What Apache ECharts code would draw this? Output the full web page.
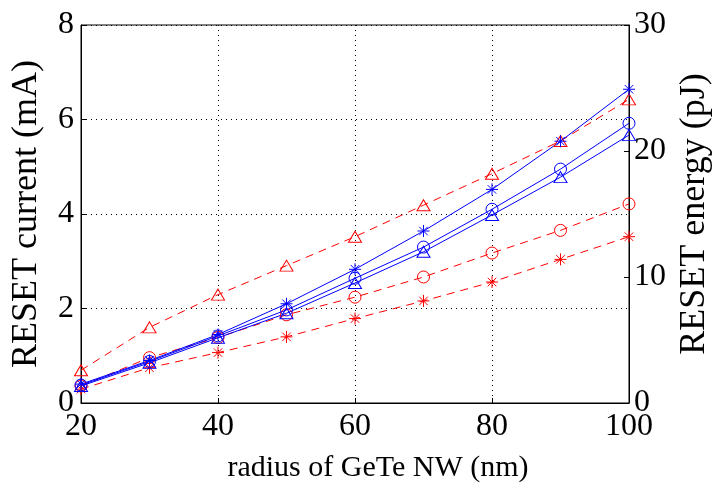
<!DOCTYPE html>
<html>
<head>
<meta charset="utf-8">
<script src="https://cdn.jsdelivr.net/npm/echarts@6/dist/echarts.min.js"></script>
<style>html,body{margin:0;padding:0;background:#fff;}#c{width:713px;height:487px;}</style>
</head>
<body>
<div id="c"></div>
<script>
const radius = [20, 30, 40, 50, 60, 70, 80, 90, 100];
// RESET current (mA), blue solid, left axis
const currentStar = [0.40, 0.90, 1.45, 2.10, 2.83, 3.64, 4.52, 5.54, 6.64];
const currentCircle = [0.38, 0.88, 1.42, 1.97, 2.64, 3.30, 4.10, 4.95, 5.92];
const currentTriangle = [0.36, 0.85, 1.38, 1.90, 2.54, 3.20, 3.98, 4.78, 5.67];
// RESET energy (pJ), red dashed, right axis
const energyTriangle = [2.6, 6.0, 8.6, 10.9, 13.2, 15.7, 18.2, 20.8, 24.1];
const energyCircle = [1.35, 3.6, 5.2, 7.0, 8.4, 10.0, 11.9, 13.7, 15.8];
const energyStar = [1.1, 2.8, 4.0, 5.25, 6.7, 8.1, 9.6, 11.4, 13.2];
const xTicks = [20, 40, 60, 80, 100];
const leftTicks = [0, 2, 4, 6, 8];
const rightTicks = [0, 10, 20, 30];

const STAR = 'path://M0,-10L0,10M-10,0L10,0M-7.07,-7.07L7.07,7.07M-7.07,7.07L7.07,-7.07';
const BLUE = '#0000ff', RED = '#ff0000';
const FONT = 'Liberation Serif';

function mk(name, vals, color, symbol, yIdx, dashed) {
  return {
    name: name, type: 'line', yAxisIndex: yIdx,
    data: radius.map((r, i) => [r, vals[i]]),
    symbol: symbol, symbolSize: symbol === 'triangle' ? [13, 11] : 12,
    showAllSymbol: true,
    lineStyle: { color: color, width: 1, type: dashed ? [8, 6] : 'solid' },
    itemStyle: { color: 'transparent', borderColor: color, borderWidth: 1 },
    emphasis: { disabled: true }, animation: false
  };
}

const chart = echarts.init(document.getElementById('c'), null, { renderer: 'canvas' });
chart.setOption({
  animation: false,
  grid: { left: 81, right: 84, top: 25, bottom: 84, outerBoundsMode: 'none', containLabel: false,
    show: true, borderColor: '#000', borderWidth: 1, backgroundColor: '#fff' },
  xAxis: {
    type: 'value', min: 20, max: 100, interval: 20,
    name: 'radius of GeTe NW (nm)', nameLocation: 'middle', nameGap: 50,
    nameTextStyle: { fontFamily: FONT, fontSize: 30, color: '#000', padding: [0, 0, 0, 46] },
    axisLine: { show: true, lineStyle: { color: '#000' } },
    axisTick: { show: true, inside: true, length: 5, lineStyle: { color: '#000' } },
    axisLabel: { fontFamily: FONT, fontSize: 32, color: '#000', margin: 8,
      formatter: v => xTicks.includes(v) ? String(v) : '' },
    splitLine: { show: true, lineStyle: { color: '#000', type: [1, 4], width: 1 } }
  },
  yAxis: [
    {
      type: 'value', min: 0, max: 8, interval: 2, position: 'left',
      name: 'RESET current (mA)', nameLocation: 'middle', nameGap: 36,
      nameTextStyle: { fontFamily: FONT, fontSize: 36, color: '#000' },
      axisLine: { show: true, lineStyle: { color: '#000' } },
      axisTick: { show: true, inside: true, length: 5, lineStyle: { color: '#000' } },
      axisLabel: { fontFamily: FONT, fontSize: 32, color: '#000', margin: 7,
        formatter: v => leftTicks.includes(v) ? String(v) : '' },
      splitLine: { show: true, lineStyle: { color: '#000', type: [1, 4], width: 1 } }
    },
    {
      type: 'value', min: 0, max: 30, interval: 10, position: 'right',
      name: 'RESET energy (pJ)', nameLocation: 'middle', nameGap: 44,
      nameRotate: 90,
      nameTextStyle: { fontFamily: FONT, fontSize: 36, color: '#000' },
      axisLine: { show: true, lineStyle: { color: '#000' } },
      axisTick: { show: true, inside: true, length: 5, lineStyle: { color: '#000' } },
      axisLabel: { fontFamily: FONT, fontSize: 32, color: '#000', margin: 5,
        formatter: v => rightTicks.includes(v) ? String(v) : '' },
      splitLine: { show: false }
    }
  ],
  series: [
    mk('energy triangle', energyTriangle, RED, 'triangle', 1, true),
    mk('energy circle', energyCircle, RED, 'circle', 1, true),
    mk('energy star', energyStar, RED, STAR, 1, true),
    mk('current star', currentStar, BLUE, STAR, 0, false),
    mk('current circle', currentCircle, BLUE, 'circle', 0, false),
    mk('current triangle', currentTriangle, BLUE, 'triangle', 0, false)
  ]
});
</script>
</body>
</html>
